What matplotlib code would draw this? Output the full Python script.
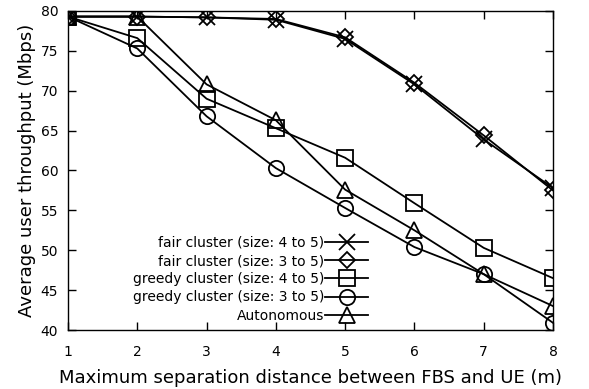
import matplotlib
matplotlib.use("Agg")
import matplotlib.pyplot as plt

x = [1, 2, 3, 4, 5, 6, 7, 8]
fair_45 = [79.3, 79.3, 79.2, 78.9, 76.5, 70.8, 63.9, 57.8]
fair_35 = [79.3, 79.3, 79.2, 79.0, 76.7, 71.0, 64.4, 57.5]
greedy_45 = [79.3, 76.6, 69.0, 65.3, 61.6, 55.9, 50.3, 46.5]
greedy_35 = [79.3, 75.3, 66.8, 60.3, 55.3, 50.4, 47.0, 40.9]
autonomous = [79.3, 79.3, 70.8, 66.3, 57.6, 52.5, 47.0, 43.0]

labels = ["fair cluster (size: 4 to 5)", "fair cluster (size: 3 to 5)",
          "greedy cluster (size: 4 to 5)", "greedy cluster (size: 3 to 5)",
          "Autonomous"]
xticks = [1, 2, 3, 4, 5, 6, 7, 8]
yticks = [40, 45, 50, 55, 60, 65, 70, 75, 80]

plt.rcParams['font.family'] = ['DejaVu Sans']
fig = plt.figure(figsize=(5.89, 3.89), dpi=100)
ax = fig.add_axes([68/589, 59/389, (553-68)/589, (330-11)/389])

series = [fair_45, fair_35, greedy_45, greedy_35, autonomous]
markers = ['x', 'D', 's', 'o', '^']
msizes = [12, 8.5, 11, 11, 11]
for ys, m, ms, lab in zip(series, markers, msizes, labels):
    ax.plot(x, ys, color='black', lw=1.3, marker=m, markersize=ms,
            markerfacecolor='none', markeredgecolor='black',
            markeredgewidth=1.3, label=lab)

ax.set_xlim(1, 8)
ax.set_ylim(40, 80)
ax.set_xticks(xticks)
ax.set_yticks(yticks)
ax.tick_params(direction='in', length=6, width=1, top=True, right=True,
               labelsize=10, colors='black')
ax.tick_params(axis='x', pad=11)
ax.tick_params(axis='y', pad=7)
for s in ax.spines.values():
    s.set_linewidth(1)
ax.set_xlabel("Maximum separation distance between FBS and UE (m)", fontsize=13, labelpad=7)
ax.set_ylabel("Average user throughput (Mbps)", fontsize=13, labelpad=3)

leg = ax.legend(loc='lower right', bbox_to_anchor=(0.619, 0.023), markerfirst=False,
                frameon=False, fontsize=10, handlelength=3.1, handletextpad=0.05,
                labelspacing=0.3, borderaxespad=0, borderpad=0)

fig.savefig("out.png", dpi=100)
